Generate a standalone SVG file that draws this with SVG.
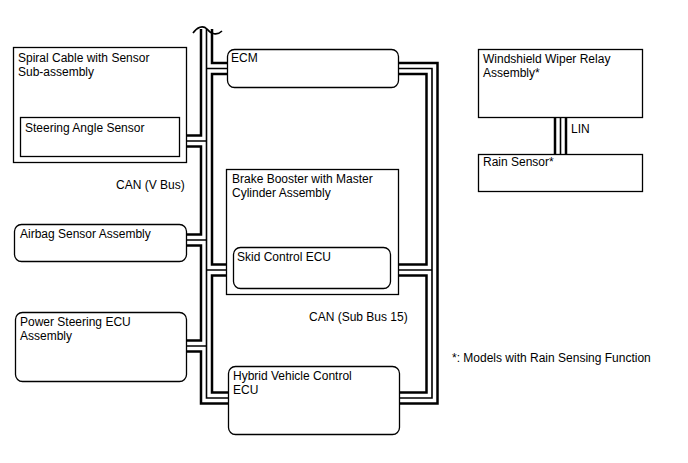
<svg xmlns="http://www.w3.org/2000/svg" width="688" height="463" viewBox="0 0 688 463">
<style>
  text { font-family: "Liberation Sans", Arial, sans-serif; font-size: 12px; fill: #000; }
  .box { fill: #fff; stroke: #000; stroke-width: 1.3; }
  .bo { fill: none; stroke: #000; stroke-width: 13.5; stroke-linejoin: miter; stroke-linecap: butt; }
  .bw { fill: none; stroke: #fff; stroke-width: 8.5; stroke-linejoin: miter; stroke-linecap: butt; }
  .bc { fill: none; stroke: #000; stroke-width: 1.6; stroke-linejoin: miter; stroke-linecap: butt; }
</style>
<defs>
  <path id="vbus" d="M206.5,29 V398 H229 M206.5,68.5 H228 M206.5,141 H186 M206.5,240 H186 M206.5,346 H186 M206.5,270 H227"/>
  <path id="subbus" d="M398,68.5 H432 V398 H399 M432,270 H398"/>
  <path id="lin" d="M560.5,117 V155"/>
</defs>
<rect width="688" height="463" fill="#fff"/>
<g id="connectors">
  <use href="#vbus" class="bo"/>
  <use href="#subbus" class="bo"/>
  <use href="#lin" class="bo"/>
  <use href="#vbus" class="bw"/>
  <use href="#subbus" class="bw"/>
  <use href="#lin" class="bw"/>
  <use href="#vbus" class="bc"/>
  <use href="#subbus" class="bc"/>
  <use href="#lin" class="bc"/>
  <rect x="190" y="20" width="35" height="9" fill="#fff"/>
  <path d="M193,33 C197,27 203,25 207,29 C211,34 217,36 222,31" fill="none" stroke="#000" stroke-width="1.6"/>
</g>
<g id="spiral-cable">
  <rect class="box" x="13.5" y="47.5" width="173" height="115"/>
  <text x="18" y="62">Spiral Cable with Sensor</text>
  <text x="18" y="76">Sub-assembly</text>
</g>
<g id="steering-angle-sensor">
  <rect class="box" x="20.5" y="117.5" width="159" height="39"/>
  <text x="25" y="132">Steering Angle Sensor</text>
</g>
<g id="airbag">
  <rect class="box" x="14.5" y="224.5" width="172" height="37" rx="7"/>
  <text x="20" y="238">Airbag Sensor Assembly</text>
</g>
<g id="power-steering">
  <rect class="box" x="15.5" y="312.5" width="171" height="69" rx="7"/>
  <text x="20" y="326">Power Steering ECU</text>
  <text x="20" y="340">Assembly</text>
</g>
<g id="ecm">
  <rect class="box" x="227.5" y="49.5" width="171" height="38" rx="7"/>
  <text x="231" y="62">ECM</text>
</g>
<g id="brake-booster">
  <rect class="box" x="226.5" y="169.5" width="172" height="125"/>
  <text x="232" y="183">Brake Booster with Master</text>
  <text x="232" y="197">Cylinder Assembly</text>
</g>
<g id="skid-control">
  <rect class="box" x="233.5" y="247.5" width="157" height="41" rx="7"/>
  <text x="237" y="261">Skid Control ECU</text>
</g>
<g id="hybrid">
  <rect class="box" x="228.5" y="366.5" width="171" height="68" rx="7"/>
  <text x="233" y="380">Hybrid Vehicle Control</text>
  <text x="233" y="394">ECU</text>
</g>
<g id="wiper-relay">
  <rect class="box" x="478.5" y="49.5" width="164" height="68"/>
  <text x="483" y="63">Windshield Wiper Relay</text>
  <text x="483" y="77">Assembly*</text>
</g>
<g id="rain-sensor">
  <rect class="box" x="478.5" y="154.5" width="164" height="37"/>
  <text x="483" y="166">Rain Sensor*</text>
</g>
<g id="labels">
  <text x="116" y="189">CAN (V Bus)</text>
  <text x="309" y="321">CAN (Sub Bus 15)</text>
  <text x="571" y="133">LIN</text>
  <text x="452" y="362">*: Models with Rain Sensing Function</text>
</g>
</svg>
